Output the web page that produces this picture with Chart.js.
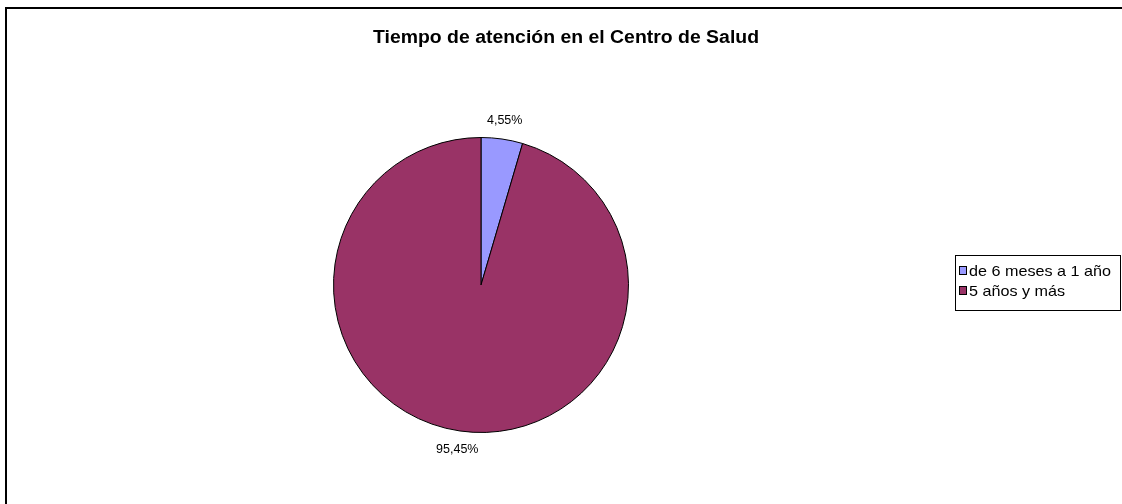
<!DOCTYPE html>
<html>
<head>
<meta charset="utf-8">
<script src="https://cdn.jsdelivr.net/npm/chart.js@4.4.1/dist/chart.umd.min.js"></script>
<style>
  html, body { margin: 0; padding: 0; background: #fff; }
  #wrap { width: 1122px; height: 504px; position: relative; }
</style>
</head>
<body>
<div id="wrap"><canvas id="pie" width="1122" height="504"></canvas></div>
<script>
// Data
const categories = ['de 6 meses a 1 año', '5 años y más'];
const percentValues = [4.55, 95.45];
const percentLabels = ['4,55%', '95,45%'];
const sliceColors = ['#9999FF', '#993366'];
const chartTitle = 'Tiempo de atención en el Centro de Salud';

const FONT = '"Liberation Sans", Arial, sans-serif';

// text stretched sideways a bit, like the old office export
function wideText(ctx, text, x, y, sx) {
    ctx.save();
    ctx.translate(x, y);
    ctx.scale(sx, 1);
    ctx.fillText(text, 0, 0);
    ctx.restore();
}

// Outer frame, title, value labels and boxed legend
const excelLook = {
    id: 'excelLook',
    afterDraw(chart) {
        const ctx = chart.ctx;
        ctx.save();

        // outer frame
        ctx.strokeStyle = '#000';
        ctx.lineWidth = 2;
        ctx.strokeRect(6, 8, 1130, 510);

        // title
        ctx.fillStyle = '#000';
        ctx.font = 'bold 18px ' + FONT;
        ctx.textAlign = 'center';
        ctx.textBaseline = 'middle';
        const tw = ctx.measureText(chartTitle).width;
        wideText(ctx, chartTitle, 566, 38, 386 / tw);

        // value labels outside each slice
        ctx.font = '12.5px ' + FONT;
        const meta = chart.getDatasetMeta(0);
        meta.data.forEach((arc, i) => {
            const mid = (arc.startAngle + arc.endAngle) / 2;
            const r = arc.outerRadius + 19;
            ctx.fillText(percentLabels[i], arc.x + Math.cos(mid) * r, arc.y + Math.sin(mid) * r);
        });

        // legend box
        ctx.lineWidth = 1;
        ctx.strokeStyle = '#000';
        ctx.strokeRect(955.5, 255.5, 165, 55);
        ctx.textAlign = 'left';
        ctx.font = '15px ' + FONT;
        const lsx = 142 / ctx.measureText(categories[0]).width;
        categories.forEach((name, i) => {
            const y = 271 + i * 20;
            ctx.fillStyle = sliceColors[i];
            ctx.fillRect(959, y - 4, 8, 8);
            ctx.strokeRect(959.5, y - 4.5, 7, 8);
            ctx.fillStyle = '#000';
            wideText(ctx, name, 969, y + 1, lsx);
        });
        ctx.restore();
    }
};

new Chart(document.getElementById('pie'), {
    type: 'pie',
    data: {
        labels: categories,
        datasets: [{
            data: percentValues,
            backgroundColor: sliceColors,
            borderColor: '#000',
            borderWidth: 1
        }]
    },
    options: {
        responsive: false,
        animation: false,
        layout: { padding: { left: 333, right: 493, top: 137, bottom: 71 } },
        plugins: {
            legend: { display: false },
            tooltip: { enabled: false },
            title: { display: false }
        }
    },
    plugins: [excelLook]
});
</script>
</body>
</html>
